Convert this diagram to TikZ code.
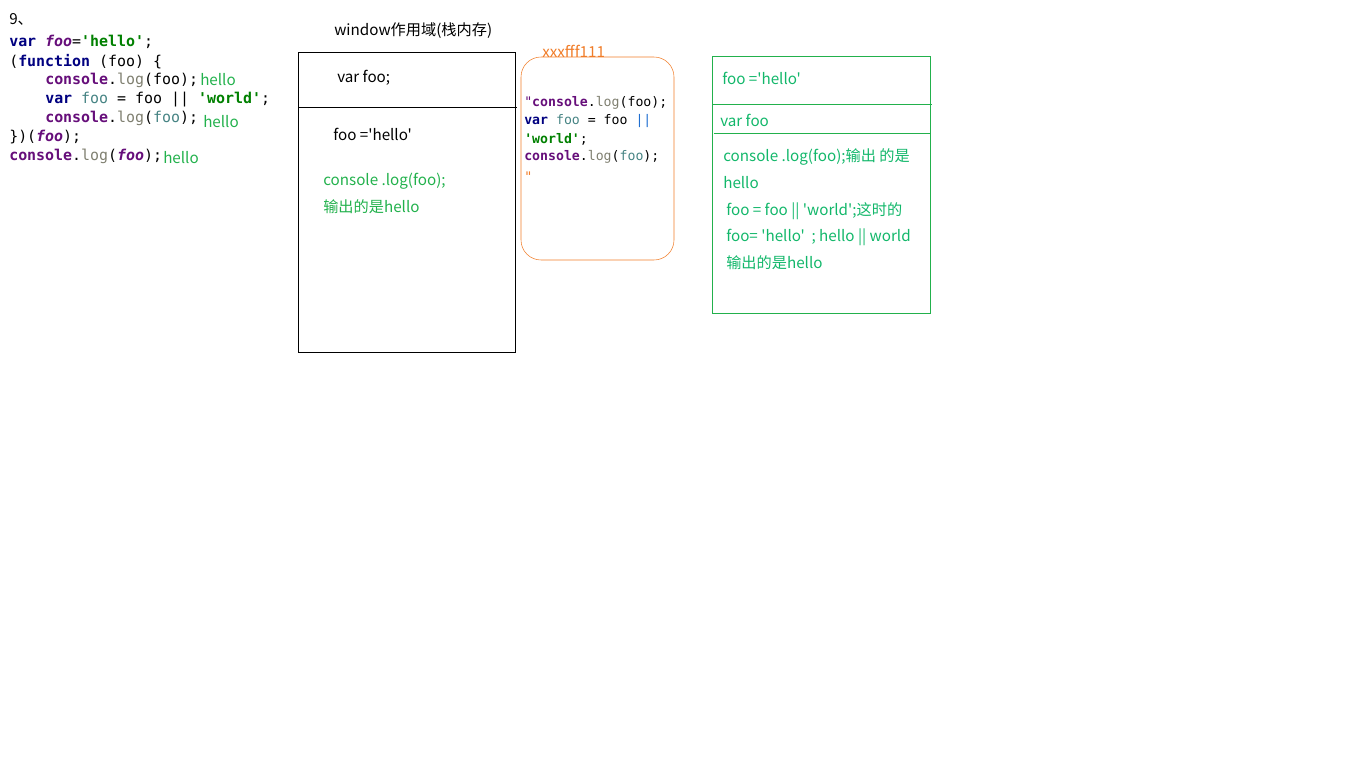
\documentclass[tikz,border=0pt]{standalone}
\usepackage{fontspec}
\setmainfont{Noto Sans CJK SC}[Ligatures=TeXOff]
\setmonofont{DejaVu Sans Mono}
\definecolor{kw}{HTML}{000080}
\definecolor{con}{HTML}{660E7A}
\definecolor{logc}{HTML}{7F7F70}
\definecolor{strc}{HTML}{008000}
\definecolor{idc}{HTML}{458383}
\definecolor{ann}{HTML}{22B14C}
\definecolor{ann2}{HTML}{12B76A}
\definecolor{orng}{HTML}{F07C28}
\definecolor{gbox}{HTML}{22B14C}
\definecolor{blu}{HTML}{1F6FD0}
\newcommand{\K}[1]{\textbf{\textcolor{kw}{#1}}}
\newcommand{\C}[1]{\textbf{\textcolor{con}{#1}}}
\newcommand{\Lg}[1]{\textcolor{logc}{#1}}
\newcommand{\St}[1]{\textbf{\textcolor{strc}{#1}}}
\newcommand{\Id}[1]{\textcolor{idc}{#1}}
\newcommand{\It}[1]{\textbf{\textit{\textcolor{con}{#1}}}}
\begin{document}
\begin{tikzpicture}[x=0.75pt,y=-0.75pt,
  txt/.style={anchor=west,inner sep=0pt,yshift=-0.75pt,font=\fontsize{11.4pt}{13pt}\selectfont},
  code/.style={anchor=west,inner sep=0pt,yshift=-1pt,font=\ttfamily\fontsize{11.2pt}{13pt}\selectfont},
  scode/.style={anchor=west,inner sep=0pt,yshift=-0.75pt,font=\ttfamily\fontsize{9.9pt}{12pt}\selectfont},
  greentxt/.style={txt,text=ann},
  green2/.style={txt,text=ann2}]
\useasboundingbox (0,0) rectangle (1360,784);
% code listing
\node[txt] (n9) at (9,18) {9、};
\node[code] (c1) at (9,41) {\K{var} \It{foo}=\St{'hello'};};
\node[code] (c2) at (9,60) {(\K{function} (foo) \{};
\node[code] (c3) at (45,79) {\C{console}.\Lg{log}(foo);};
\node[code] (c4) at (45,98) {\K{var} \Id{foo} = foo || \St{'world'};};
\node[code] (c5) at (45,117) {\C{console}.\Lg{log}(\Id{foo});};
\node[code] (c6) at (9,136) {\})(\It{foo});};
\node[code] (c7) at (9,155) {\C{console}.\Lg{log}(\It{foo});};
\node[greentxt] (h1) at (200,79) {hello};
\node[greentxt] (h2) at (203,121) {hello};
\node[greentxt] (h3) at (163,157) {hello};
% window scope box
\node[txt] (wt) at (334,30) {window作用域(栈内存)};
\draw[black] (298,52) rectangle (515,352);
\coordinate (wl) at (298,107); \coordinate (wr) at (517,107);
\draw[black] (wl) -- (wr);
\node[txt] (wv) at (337,77) {var foo;};
\node[txt] (wf) at (333,133) {foo ='hello'};
\node[greentxt] (wc1) at (323,180) {console .log(foo);};
\node[greentxt] (wc2) at (323,206) {输出的是hello};
% heap box
\node[txt,text=orng] (ht) at (542,50) {xxxfff111};
\draw[orng,rounded corners=15pt] (521,57) rectangle (674,260);
\node[scode] (o1) at (524,102) {\textcolor{con}{"}\C{console}.\Lg{log}(foo);};
\node[scode] (o2) at (524,120) {\K{var} \Id{foo} = foo \textcolor{blu}{||}};
\node[scode] (o3) at (524,138) {\St{'world'};};
\node[scode] (o4) at (524,156) {\C{console}.\Lg{log}(\Id{foo});};
\node[scode,text=orng] (o5) at (524,176) {"};
% function scope box
\draw[gbox] (712,56) rectangle (930,313);
\coordinate (g1l) at (712,104); \coordinate (g1r) at (932,104);
\draw[gbox] (g1l) -- (g1r);
\coordinate (g2l) at (714,133); \coordinate (g2r) at (930,133);
\draw[gbox] (g2l) -- (g2r);
\node[green2] (f1) at (722,77) {foo ='hello'};
\node[green2] (f2) at (720,119) {var foo};
\node[green2] (f3) at (723,156) {console .log(foo);输出 的是};
\node[green2] (f4) at (723,182) {hello};
\node[green2] (f5) at (726,210) {foo = foo || 'world';这时的};
\node[green2] (f6) at (726,236) {foo= 'hello'\ \ ; hello || world};
\node[green2] (f7) at (726,262) {输出的是hello};
\end{tikzpicture}
\end{document}
